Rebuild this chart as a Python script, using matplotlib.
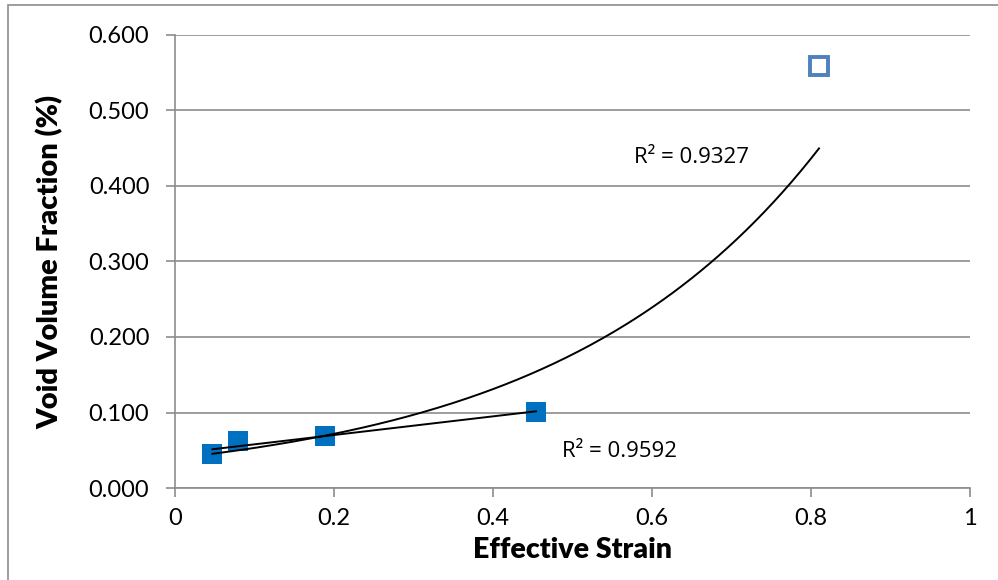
import numpy as np
import matplotlib.pyplot as plt
from matplotlib.patches import Rectangle

# medições
strain = np.array([0.047, 0.079, 0.189, 0.454])
void_frac = np.array([0.045, 0.062, 0.069, 0.101])
strain_out = np.array([0.810])          # ponto em destaque (vazado)
void_out = np.array([0.559])
r2_exp = 'R² = 0.9327'
r2_lin = 'R² = 0.9592'

plt.rcParams['font.family'] = ['Lato', 'DejaVu Sans']

fig = plt.figure(figsize=(9.98, 5.8), dpi=100)
ax = fig.add_axes([0.1754, 0.1586, 0.7966, 0.7811])

# moldura do gráfico
fig.patches.append(Rectangle((8 / 998, -0.1), 1.2, 1 - 5 / 580 + 0.1,
                             transform=fig.transFigure, fill=False,
                             edgecolor='#8c8c8c', linewidth=1.2))

# linhas de tendência: exponencial (todos os pontos) e linear (pontos cheios)
x_all = np.concatenate([strain, strain_out])
y_all = np.concatenate([void_frac, void_out])
b, ln_a = np.polyfit(x_all, np.log(y_all), 1)
xe = np.linspace(x_all.min(), x_all.max(), 200)
ax.plot(xe, np.exp(ln_a) * np.exp(b * xe), color='black', lw=1.4, zorder=3)

m, c = np.polyfit(strain, void_frac, 1)
xl = np.array([strain.min(), strain.max()])
ax.plot(xl, m * xl + c, color='black', lw=1.4, zorder=3)

ax.plot(strain, void_frac, 's', color='#0070C0', markersize=14,
        markeredgewidth=0, zorder=2)
ax.plot(strain_out, void_out, 's', markerfacecolor='white',
        markeredgecolor='#4F81BD', markersize=13, markeredgewidth=2.8, zorder=2)

ax.text(0.577, 0.438, r2_exp, fontsize=16, va='center', family='Open Sans')
ax.text(0.487, 0.048, r2_lin, fontsize=16, va='center', family='Open Sans')

ax.set_xlim(0, 1)
ax.set_ylim(0, 0.6)
ax.set_xticks(np.arange(0, 1.01, 0.2))
ax.set_xticklabels(['0', '0.2', '0.4', '0.6', '0.8', '1'])
ax.set_yticks(np.arange(0, 0.61, 0.1))
ax.set_yticklabels(['%.3f' % v for v in np.arange(0, 0.61, 0.1)])
ax.tick_params(labelsize=17, length=6.5, width=1.2, color='#8c8c8c')
ax.tick_params(axis='y', pad=12)
ax.tick_params(axis='x', pad=8)
ax.grid(axis='y', color='#8c8c8c', lw=1.2)
ax.set_axisbelow(True)
for s in ['top', 'right']:
    ax.spines[s].set_visible(False)
for s in ['left', 'bottom']:
    ax.spines[s].set_color('#8c8c8c')
    ax.spines[s].set_linewidth(1.2)

ax.set_xlabel('Effective Strain', fontsize=20.5, fontweight='heavy', labelpad=6)
ax.set_ylabel('Void Volume Fraction (%)', fontsize=21, fontweight='heavy', labelpad=18)

plt.savefig('out.png', dpi=100)
